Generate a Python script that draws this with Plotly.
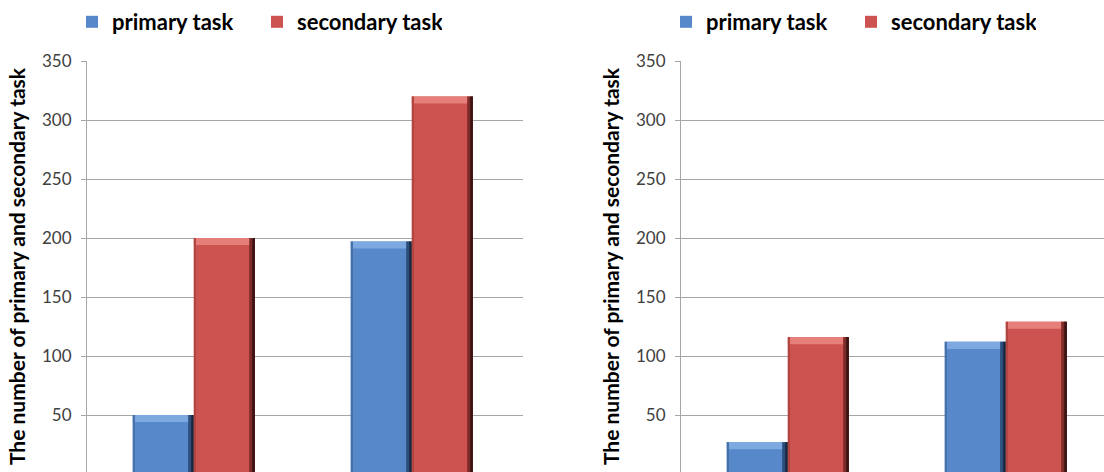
import plotly.graph_objects as go

# Data
categories = ["Group 1", "Group 2"]
series_names = ["primary task", "secondary task"]
left_primary = [50, 197]
left_secondary = [200, 320]
right_primary = [27, 112]
right_secondary = [116, 129]
y_ticks = [50, 100, 150, 200, 250, 300, 350]
y_title = "The number of primary and secondary task"

W, H = 1104, 472

# bar styling: body, highlight cap, edge shading
BAR_W = 0.28
CAP = 6  # height of the highlight cap, in data units
PALETTE = {
    "primary task": dict(body="#5688CA", light="#7EA8E0", edge="#4570AA",
                         dark="#2E4E7C", darkest="#18283F"),
    "secondary task": dict(body="#CC5350", light="#E67E7A", edge="#B04542",
                           dark="#7E2C2A", darkest="#3A1413"),
}
OFFSETS = {"primary task": -0.29, "secondary task": -0.01}


def add_series(fig, values, name, xa, ya, legend):
    c = PALETTE[name]
    off = OFFSETS[name]
    n = len(values)
    common = dict(x=categories, xaxis=xa, yaxis=ya, hoverinfo="skip")
    # main body
    fig.add_trace(go.Bar(y=values, width=BAR_W, offset=off, name=name,
                         marker=dict(color=c["body"], line=dict(width=0)),
                         legend=legend, showlegend=True, **common))
    # highlight cap along the top
    fig.add_trace(go.Bar(y=[CAP] * n, base=[v - CAP for v in values],
                         width=BAR_W, offset=off,
                         marker=dict(color=c["light"], line=dict(width=0)),
                         showlegend=False, **common))
    # thin darker left edge
    fig.add_trace(go.Bar(y=values, width=0.01, offset=off,
                         marker=dict(color=c["edge"], line=dict(width=0)),
                         showlegend=False, **common))
    # shadowed right edge
    fig.add_trace(go.Bar(y=values, width=0.026, offset=off + BAR_W - 0.026,
                         marker=dict(color=c["dark"], line=dict(width=0)),
                         showlegend=False, **common))
    fig.add_trace(go.Bar(y=values, width=0.012, offset=off + BAR_W - 0.012,
                         marker=dict(color=c["darkest"], line=dict(width=0)),
                         showlegend=False, **common))


fig = go.Figure()
add_series(fig, left_primary, "primary task", "x", "y", "legend")
add_series(fig, left_secondary, "secondary task", "x", "y", "legend")
add_series(fig, right_primary, "primary task", "x2", "y2", "legend2")
add_series(fig, right_secondary, "secondary task", "x2", "y2", "legend2")

plot_top = 61
left_x0, left_x1 = 87, 523
right_x0 = 681
cat_px = (left_x1 - left_x0) / 2

tick_font = dict(family="Lato", size=17, color="#404040")
title_font = dict(family="Lato", size=21, color="#000000", weight="bold")

yaxis_common = dict(
    range=[1.7, 350], tickvals=y_ticks, showgrid=True, gridcolor="#A6A6A6",
    gridwidth=1, showline=True, linecolor="#A6A6A6", linewidth=1,
    ticks="outside", ticklen=5, tickcolor="#A6A6A6", tickfont=tick_font,
    ticklabelstandoff=6,
    zeroline=False, automargin=False,
    title=dict(text=y_title, font=title_font, standoff=10),
    domain=[0, 1 - plot_top / H],
)
xaxis_common = dict(
    type="category", showgrid=False, showline=False, showticklabels=False,
    ticks="", zeroline=False, automargin=False,
)

legend_common = dict(
    orientation="h",
    font=dict(family="Lato", size=22, color="#000000", weight="bold"),
    bgcolor="rgba(0,0,0,0)", yanchor="middle", y=1 - 22 / H,
    xanchor="left", entrywidth=140, itemsizing="constant",
)

fig.update_layout(
    width=W, height=H, barmode="overlay",
    margin=dict(l=0, r=0, t=0, b=0),
    paper_bgcolor="white", plot_bgcolor="white",
    xaxis=dict(domain=[left_x0 / W, left_x1 / W], range=[-0.5, 1.5],
               anchor="y", **xaxis_common),
    xaxis2=dict(domain=[right_x0 / W, 1.0],
                range=[-0.5, -0.5 + (W - right_x0) / cat_px],
                anchor="y2", **xaxis_common),
    yaxis=dict(anchor="x", **yaxis_common),
    yaxis2=dict(anchor="x2", **yaxis_common),
    legend=dict(x=72 / W, **legend_common),
    legend2=dict(x=666 / W, **legend_common),
)

fig.write_html("out.html")
